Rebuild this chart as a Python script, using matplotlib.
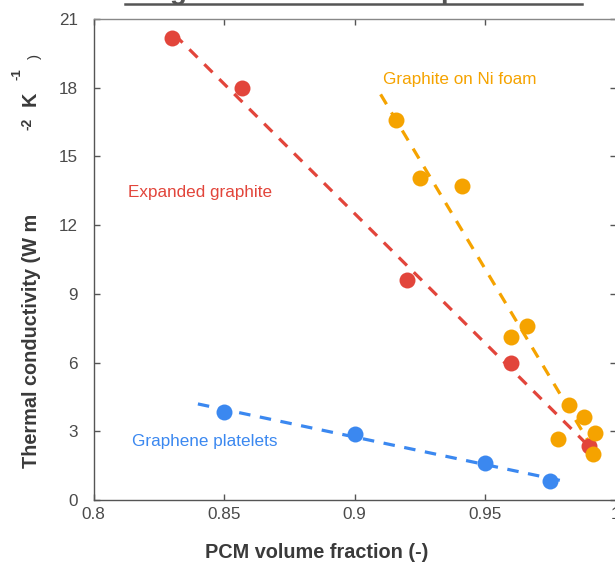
#!/usr/bin/env python3
import numpy as np
import matplotlib
matplotlib.use('Agg')
import matplotlib.pyplot as plt
from matplotlib.lines import Line2D

# values
exp_x = [0.830, 0.857, 0.920, 0.960, 0.990]
exp_y = [20.15, 18.0, 9.6, 6.0, 2.36]

ni_x = [0.916, 0.925, 0.941, 0.960, 0.966, 0.978, 0.982, 0.988, 0.992, 0.9915]
ni_y = [16.59, 14.05, 13.72, 7.13, 7.61, 2.65, 4.15, 3.61, 2.91, 2.02]

gnp_x = [0.850, 0.900, 0.950, 0.975]
gnp_y = [3.86, 2.88, 1.63, 0.83]

# x range of the fitted dashed lines
exp_fit_range = [0.831, 0.993]
ni_fit_range = [0.910, 0.990]
gnp_fit_range = [0.840, 0.980]

xticks = [0.8, 0.85, 0.9, 0.95, 1.0]
xtick_labels = ['0.8', '0.85', '0.9', '0.95', '1']
yticks = [0, 3, 6, 9, 12, 15, 18, 21]

RED = '#e2453b'
ORANGE = '#f5a300'
BLUE = '#3b88f0'
GRAY = '#4a4a4a'


def main():
    plt.rcParams['font.family'] = ['Liberation Sans', 'DejaVu Sans']

    W, H = 615, 563
    fig = plt.figure(figsize=(W / 100, H / 100), dpi=100)
    ax = fig.add_axes([93.5 / W, 63 / H, 522 / W, 481 / H])

    series = [
        (exp_x, exp_y, exp_fit_range, RED),
        (ni_x, ni_y, ni_fit_range, ORANGE),
        (gnp_x, gnp_y, gnp_fit_range, BLUE),
    ]
    for xs, ys, rng, col in series:
        k, b = np.polyfit(xs, ys, 1)
        fx = np.array(rng)
        ax.plot(fx, k * fx + b, color=col, lw=2.3, dashes=(3.6, 3.0),
                solid_capstyle='butt', dash_capstyle='butt', zorder=2)
        ax.plot(xs, ys, 'o', color=col, ms=11.5, mec='none', zorder=3)

    ax.text(0.8132, 13.23, 'Expanded graphite', color=RED, fontsize=12.3, va='baseline')
    ax.text(0.9109, 18.17, 'Graphite on Ni foam', color=ORANGE, fontsize=12.3, va='baseline')
    ax.text(0.8146, 2.36, 'Graphene platelets', color=BLUE, fontsize=12.3, va='baseline')

    ax.set_xlim(0.8, 1.0)
    ax.set_ylim(0, 21)
    ax.set_xticks(xticks)
    ax.set_xticklabels(xtick_labels)
    ax.set_yticks(yticks)
    ax.tick_params(direction='in', length=4, width=1, color='#555555',
                   labelcolor=GRAY, labelsize=12.3, top=True, right=True)
    ax.tick_params(axis='x', pad=5)
    ax.tick_params(axis='y', pad=11)
    for s in ax.spines.values():
        s.set_color('#555555')
        s.set_linewidth(1)
    ax.spines['top'].set_color('#888888')

    # axis titles
    fig.text(316.5 / W, 5 / H, 'PCM volume fraction (-)', fontsize=14.3,
             fontweight='bold', color='#3a3a3a', ha='center', va='baseline')
    fig.text(37 / W, 1 - 340.5 / H, 'Thermal conductivity (W m', fontsize=14.3,
             fontweight='bold', color='#3a3a3a', rotation=90,
             rotation_mode='anchor', ha='center', va='baseline')
    fig.text(32 / W, 1 - 123.5 / H, '-2', fontsize=10, fontweight='bold',
             color='#3a3a3a', rotation=90, rotation_mode='anchor',
             ha='center', va='baseline')
    fig.text(36 / W, 1 - 99 / H, 'K', fontsize=14.3, fontweight='bold',
             color='#3a3a3a', rotation=90, rotation_mode='anchor',
             ha='center', va='baseline')
    fig.text(20 / W, 1 - 74.5 / H, '-1', fontsize=9.5, fontweight='bold',
             color='#3a3a3a', rotation=90, rotation_mode='anchor',
             ha='center', va='baseline')
    fig.text(39 / W, 1 - 56 / H, ')', fontsize=11, color='#3a3a3a',
             rotation=90, rotation_mode='anchor', ha='center', va='baseline')

    # remains of a cut-off title above the plot
    fig.add_artist(Line2D([125 / W, 582 / W], [1 - 4 / H, 1 - 4 / H],
                          color='#555555', lw=1.8, transform=fig.transFigure))
    fig.text(178 / W, 1 + 1 / H, 'g', fontsize=20, fontweight='bold', color='#555555',
             ha='center', va='baseline')
    fig.text(449 / W, 1 + 1 / H, 'p', fontsize=20, fontweight='bold', color='#555555',
             ha='center', va='baseline')

    fig.savefig('out.png', dpi=100)


if __name__ == '__main__':
    main()
